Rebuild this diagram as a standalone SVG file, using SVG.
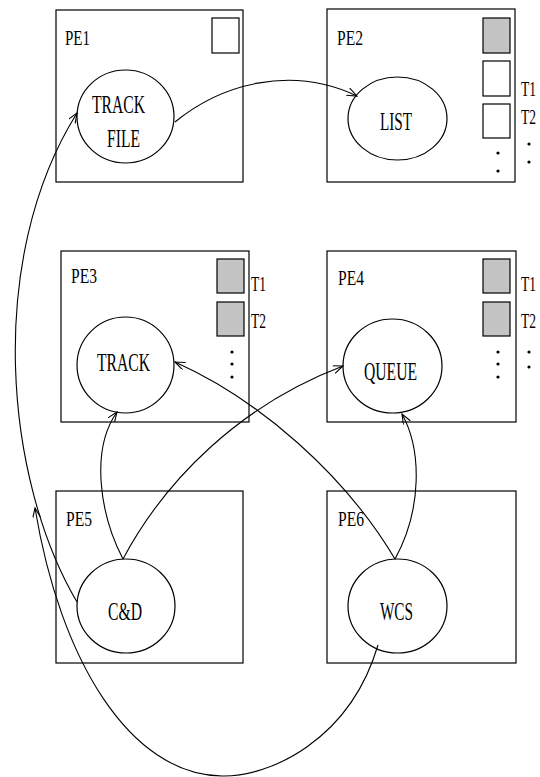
<svg xmlns="http://www.w3.org/2000/svg" width="540" height="777" viewBox="0 0 540 777">
<defs>
<style>
.box{fill:#fff;stroke:#000;stroke-width:1.2}
.el{fill:#fff;stroke:#000;stroke-width:1.2}
.sq{fill:#fff;stroke:#000;stroke-width:1.2}
.gr{fill:#c4c4c4;stroke:#000;stroke-width:1.2}
.lbl{font-family:"Liberation Serif",serif;font-size:21px;fill:#000}
.txt{font-family:"Liberation Serif",serif;font-size:25px;fill:#000}
.dot{fill:#000}
.con{fill:none;stroke:#000;stroke-width:1.1;marker-end:url(#arr)}
</style>
<marker id="arr" markerUnits="userSpaceOnUse" markerWidth="12" markerHeight="10" refX="10" refY="4" orient="auto">
<path d="M0,0 L10,4 L0,8" fill="none" stroke="#000" stroke-width="1.1"/>
</marker>
</defs>
<rect width="540" height="777" fill="#fff"/>
<g id="PE1">
<rect class="box" x="56" y="10" width="187" height="172"/>
<text class="lbl" x="65" y="45" textLength="25" lengthAdjust="spacingAndGlyphs">PE1</text>
<rect class="sq" x="212" y="18" width="27" height="35"/>
<ellipse class="el" cx="125.5" cy="116.5" rx="48.5" ry="46.5"/>
<text class="txt" x="92" y="113" textLength="53" lengthAdjust="spacingAndGlyphs">TRACK</text>
<text class="txt" x="107" y="147" textLength="33" lengthAdjust="spacingAndGlyphs">FILE</text>
</g>
<g id="PE2">
<rect class="box" x="327" y="9" width="188" height="173"/>
<text class="lbl" x="337" y="45" textLength="26" lengthAdjust="spacingAndGlyphs">PE2</text>
<rect class="gr" x="483" y="18" width="27" height="35"/>
<rect class="sq" x="483" y="61" width="27" height="35"/>
<rect class="sq" x="483" y="104" width="27" height="34"/>
<text class="lbl" x="521" y="96" textLength="15" lengthAdjust="spacingAndGlyphs">T1</text>
<text class="lbl" x="521" y="124" textLength="15" lengthAdjust="spacingAndGlyphs">T2</text>
<circle class="dot" cx="498" cy="153" r="1.6"/>
<circle class="dot" cx="498" cy="171" r="1.6"/>
<circle class="dot" cx="529" cy="144" r="1.6"/>
<circle class="dot" cx="529" cy="162" r="1.6"/>
<ellipse class="el" cx="397.5" cy="118.5" rx="49.5" ry="41.5"/>
<text class="txt" x="380" y="130" textLength="32" lengthAdjust="spacingAndGlyphs">LIST</text>
</g>
<g id="PE3">
<rect class="box" x="61" y="251" width="188" height="171"/>
<text class="lbl" x="71" y="283" textLength="26" lengthAdjust="spacingAndGlyphs">PE3</text>
<rect class="gr" x="217" y="259" width="27" height="34"/>
<rect class="gr" x="217" y="302" width="27" height="34"/>
<text class="lbl" x="251" y="291" textLength="15" lengthAdjust="spacingAndGlyphs">T1</text>
<text class="lbl" x="251" y="328" textLength="15" lengthAdjust="spacingAndGlyphs">T2</text>
<circle class="dot" cx="232" cy="352" r="1.6"/>
<circle class="dot" cx="232" cy="364" r="1.6"/>
<circle class="dot" cx="232" cy="377" r="1.6"/>
<ellipse class="el" cx="125.5" cy="365" rx="48.5" ry="48"/>
<text class="txt" x="97" y="371" textLength="53" lengthAdjust="spacingAndGlyphs">TRACK</text>
</g>
<g id="PE4">
<rect class="box" x="327" y="251" width="189" height="171"/>
<text class="lbl" x="338" y="285" textLength="26" lengthAdjust="spacingAndGlyphs">PE4</text>
<rect class="gr" x="483" y="259" width="27" height="34"/>
<rect class="gr" x="483" y="302" width="27" height="34"/>
<text class="lbl" x="521" y="291" textLength="15" lengthAdjust="spacingAndGlyphs">T1</text>
<text class="lbl" x="521" y="328" textLength="15" lengthAdjust="spacingAndGlyphs">T2</text>
<circle class="dot" cx="498" cy="352" r="1.6"/>
<circle class="dot" cx="498" cy="364" r="1.6"/>
<circle class="dot" cx="498" cy="377" r="1.6"/>
<circle class="dot" cx="529" cy="352" r="1.6"/>
<circle class="dot" cx="529" cy="367" r="1.6"/>
<ellipse class="el" cx="392.5" cy="366" rx="49.5" ry="47"/>
<text class="txt" x="364" y="380" textLength="53" lengthAdjust="spacingAndGlyphs">QUEUE</text>
</g>
<g id="PE5">
<rect class="box" x="56" y="491" width="187" height="172"/>
<text class="lbl" x="66" y="526" textLength="26" lengthAdjust="spacingAndGlyphs">PE5</text>
<ellipse class="el" cx="126" cy="606" rx="49" ry="47"/>
<text class="txt" x="108" y="620" textLength="34" lengthAdjust="spacingAndGlyphs">C&amp;D</text>
</g>
<g id="PE6">
<rect class="box" x="327" y="491" width="189" height="172"/>
<text class="lbl" x="338" y="526" textLength="26" lengthAdjust="spacingAndGlyphs">PE6</text>
<ellipse class="el" cx="397.5" cy="606" rx="49.5" ry="47"/>
<text class="txt" x="380" y="620" textLength="33" lengthAdjust="spacingAndGlyphs">WCS</text>
</g>
<g id="connectors">
<path class="con" d="M175,122 C220,85 290,64 357,96"/>
<path class="con" d="M77,602 C5,480 -15,260 77,113"/>
<path class="con" d="M123,559 C100,515 90,450 117,412"/>
<path class="con" d="M123,559 C165,480 240,405 343,366"/>
<path class="con" d="M395,559 C345,475 260,400 175,362"/>
<path class="con" d="M395,559 C422,510 422,450 402,414"/>
<path class="con" d="M378,645 C350,740 270,777 222,776 C130,775 60,660 35,508"/>
</g>
</svg>
